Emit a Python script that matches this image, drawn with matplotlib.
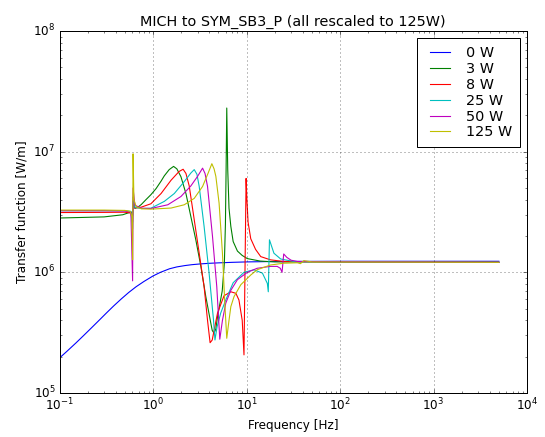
import matplotlib
matplotlib.use('Agg')
import matplotlib.pyplot as plt

plt.style.use('classic')

# values (frequency in Hz, transfer function in W/m)
f_0w = [0.1, 0.12, 0.15, 0.18, 0.22, 0.27, 0.32, 0.38, 0.46, 0.55, 0.66, 0.8, 1.0, 1.2, 1.5, 1.8,
        2.2, 2.6, 3.2, 4.0, 5.0, 7.0, 10, 20, 100, 5000]
m_0w = [1.95e5, 2.215e5, 2.6e5, 2.98e5, 3.47e5, 4.06e5, 4.63e5, 5.27e5, 6.04e5, 6.81e5, 7.6e5, 8.4e5, 9.33e5, 1.0e6, 1.07e6, 1.109e6,
        1.138e6, 1.157e6, 1.174e6, 1.188e6, 1.198e6, 1.21e6, 1.22e6, 1.23e6, 1.235e6, 1.235e6]

f_3w = [0.1, 0.3, 0.475, 0.55, 0.59, 0.605, 0.612, 0.64, 0.7, 0.75, 0.84, 0.95, 1.08, 1.22, 1.32,
        1.49, 1.66, 1.8, 1.99, 2.25, 2.54, 2.87, 3.25, 3.67, 4.15, 4.3, 4.5, 4.7, 4.9, 5.5, 5.8,
        5.95, 6.05, 6.15, 6.3, 6.5, 6.8, 7.2, 8.0, 9.0, 10.2, 14, 20, 5000]
m_3w = [2.82e6, 2.88e6, 3.0e6, 3.12e6, 3.15e6, 2.95e6, 3.7e6, 3.4e6, 3.5e6, 3.65e6, 4.0e6, 4.4e6, 4.95e6, 5.7e6, 6.3e6,
        7.1e6, 7.55e6, 7.2e6, 6.2e6, 4.5e6, 2.9e6, 1.86e6, 1.12e6, 6.3e5, 3.8e5, 3.3e5, 3.13e5, 3.4e5, 4.3e5, 7e5, 1.2e6,
        2.5e6, 7e6, 2.3e7, 7.1e6, 3.4e6, 2.4e6, 1.8e6, 1.5e6, 1.38e6, 1.3e6, 1.24e6, 1.22e6, 1.21e6]

f_8w = [0.1, 0.3, 0.5, 0.58, 0.605, 0.612, 0.64, 0.75, 0.95, 1.22, 1.56, 1.9, 2.1, 2.25, 2.44, 2.76,
        3.12, 3.52, 3.83, 4.08, 4.3, 4.5, 4.9, 5.75, 6.8, 7.7, 8.3, 9.0, 9.4, 9.9, 10.1, 10.4, 11.1,
        12.5, 14.2, 18, 25, 5000]
m_8w = [3.13e6, 3.14e6, 3.15e6, 3.1e6, 2.6e6, 3.9e6, 3.4e6, 3.47e6, 3.7e6, 4.5e6, 5.8e6, 6.85e6, 7.15e6, 6.6e6, 5.2e6, 2.73e6,
        1.44e6, 7.6e5, 4.0e5, 2.61e5, 2.75e5, 3.3e5, 4.6e5, 6.4e5, 6.9e5, 6.7e5, 5.9e5, 4.0e5, 2.07e5, 6.0e6, 4.0e6, 2.6e6, 1.9e6,
        1.55e6, 1.35e6, 1.27e6, 1.23e6, 1.21e6]

f_25w = [0.1, 0.3, 0.5, 0.58, 0.605, 0.612, 0.64, 0.75, 0.95, 1.32, 1.69, 2.16, 2.54, 2.76, 2.95, 3.12,
         3.52, 3.98, 4.44, 4.6, 4.85, 5.3, 6.0, 7.2, 9.4, 12, 14.8, 16.7, 17.1, 17.6, 19.65, 23.2, 32, 5000]
m_25w = [3.24e6, 3.24e6, 3.24e6, 3.2e6, 2.3e6, 4.2e6, 3.45e6, 3.38e6, 3.4e6, 3.87e6, 4.5e6, 5.65e6, 6.65e6, 7.1e6, 6.5e6, 5.15e6,
         2.4e6, 9.85e5, 4.0e5, 2.75e5, 3.55e5, 4.6e5, 5.9e5, 8.2e5, 1.0e6, 1.05e6, 9.85e5, 8.1e5, 6.9e5, 1.86e6, 1.44e6, 1.29e6, 1.23e6, 1.21e6]

f_50w = [0.1, 0.3, 0.5, 0.58, 0.605, 0.612, 0.64, 0.75, 0.95, 1.44, 1.99, 2.54, 3.0, 3.39, 3.6, 3.83,
         4.33, 4.81, 5.18, 5.53, 6.0, 6.8, 8.0, 10.2, 13, 18, 21.3, 23, 24, 25, 27, 30, 35, 5000]
m_50w = [3.24e6, 3.24e6, 3.22e6, 3.15e6, 8.5e5, 5.0e6, 3.6e6, 3.4e6, 3.38e6, 3.63e6, 4.25e6, 5.2e6, 6.25e6, 7.3e6, 6.6e6, 5.15e6,
         1.98e6, 7.6e5, 2.79e5, 4.0e5, 5.55e5, 7.1e5, 8.7e5, 1.0e6, 1.08e6, 1.12e6, 1.12e6, 1.08e6, 1.0e6, 1.42e6, 1.33e6, 1.26e6, 1.23e6, 1.21e6]

f_125w = [0.1, 0.3, 0.5, 0.57, 0.595, 0.605, 0.612, 0.625, 0.66, 0.75, 0.95, 1.56, 2.16, 2.76, 3.39, 3.89,
          4.26, 4.5, 4.7, 5.09, 5.53, 5.86, 6.15, 6.5, 6.8, 7.36, 8.7, 11.1, 13, 18, 25, 35, 37.8, 41, 50, 5000]
m_125w = [3.28e6, 3.28e6, 3.26e6, 3.2e6, 2.9e6, 1.27e6, 9.6e6, 4.0e6, 3.5e6, 3.36e6, 3.34e6, 3.41e6, 3.63e6, 4.1e6, 5.15e6, 6.65e6,
          7.95e6, 7.2e6, 6.25e6, 3.75e6, 1.44e6, 5.55e5, 2.84e5, 4.0e5, 5.2e5, 6.3e5, 7.9e5, 9.5e5, 1.05e6, 1.15e6, 1.19e6, 1.2e6, 1.18e6, 1.25e6, 1.22e6, 1.21e6]

labels = ['0 W', '3 W', '8 W', '25 W', '50 W', '125 W']
colors = ['b', 'g', 'r', 'c', 'm', 'y']

fig = plt.figure(figsize=(545 / 72.0, 437 / 72.0), dpi=72, facecolor='white')
ax = fig.add_axes([59.5 / 545, 1 - 393.0 / 437, 467.5 / 545, 362.0 / 437])

series = [(f_0w, m_0w), (f_3w, m_3w), (f_8w, m_8w), (f_25w, m_25w), (f_50w, m_50w), (f_125w, m_125w)]
for (f, m), lab, c in zip(series, labels, colors):
    ax.loglog(f, m, color=c, label=lab, linewidth=1.1)

ax.set_xlim(0.1, 1e4)
ax.set_ylim(1e5, 1e8)
ax.grid(True)
ax.set_xlabel('Frequency [Hz]')
ax.set_ylabel('Transfer function [W/m]')
ax.set_title('MICH to SYM_SB3_P (all rescaled to 125W)')
ax.legend(loc='upper right', labelspacing=0.13, borderpad=0.55)

fig.savefig('out.png', dpi=72, facecolor='white')
